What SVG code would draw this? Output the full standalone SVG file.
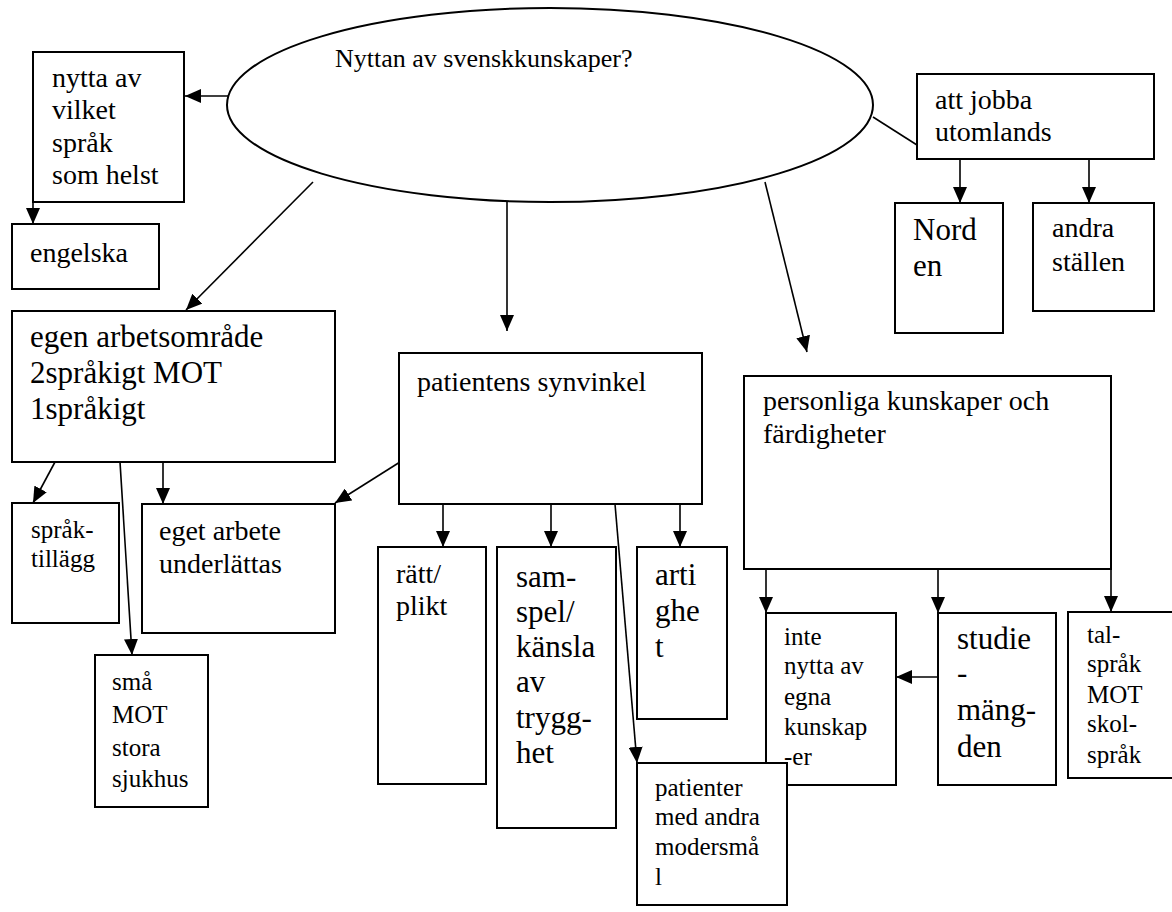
<svg xmlns="http://www.w3.org/2000/svg" width="1172" height="912" viewBox="0 0 1172 912">
  <style>
    .box { fill: #fff; stroke: #000; stroke-width: 2; }
    .oval { fill: #fff; stroke: #000; stroke-width: 2; }
    .link { fill: none; stroke: #000; stroke-width: 1.6; }
    .arrow { fill: none; stroke: #000; stroke-width: 1.6; marker-end: url(#ah); }
    text { font-family: "Liberation Serif", "Times New Roman", serif; fill: #000; }
    .f25 { font-size: 25px; }
    .f26 { font-size: 26px; }
    .f28 { font-size: 28px; }
    .f31 { font-size: 31px; }
  </style>
  <defs>
    <marker id="ah" markerWidth="16" markerHeight="14" refX="16" refY="7" orient="auto" markerUnits="userSpaceOnUse">
      <path d="M0,0 L16,7 L0,14 z" fill="#000"/>
    </marker>
  </defs>
  <rect width="1172" height="912" fill="#fff"/>

  <!-- connectors -->
  <g id="connectors">
    <line class="arrow" x1="228" y1="96" x2="185" y2="96"/>
    <line class="arrow" x1="33" y1="182" x2="33" y2="224"/>
    <line class="arrow" x1="313" y1="182" x2="186" y2="310"/>
    <line class="arrow" x1="507" y1="202" x2="507" y2="331"/>
    <line class="arrow" x1="765" y1="182" x2="807" y2="352"/>
    <line class="link" x1="873" y1="117" x2="917" y2="145"/>
    <line class="arrow" x1="960" y1="159" x2="960" y2="203"/>
    <line class="arrow" x1="1089" y1="159" x2="1089" y2="203"/>
    <line class="arrow" x1="55" y1="462" x2="33" y2="503"/>
    <line class="arrow" x1="120" y1="462" x2="132" y2="655"/>
    <line class="arrow" x1="163" y1="462" x2="163" y2="504"/>
    <line class="arrow" x1="400" y1="462" x2="335" y2="503"/>
    <line class="arrow" x1="443" y1="504" x2="443" y2="547"/>
    <line class="arrow" x1="551" y1="504" x2="551" y2="547"/>
    <line class="arrow" x1="680" y1="504" x2="680" y2="547"/>
    <line class="arrow" x1="615" y1="504" x2="637" y2="763"/>
    <line class="arrow" x1="766" y1="569" x2="766" y2="613"/>
    <line class="arrow" x1="938" y1="569" x2="938" y2="613"/>
    <line class="arrow" x1="1111" y1="569" x2="1111" y2="612"/>
    <line class="arrow" x1="938" y1="677" x2="896" y2="677"/>
  </g>

  <!-- central question -->
  <g id="nyttan">
    <ellipse class="oval" cx="550" cy="105" rx="323" ry="97"/>
    <text class="f26" x="335" y="67">Nyttan av svenskkunskaper?</text>
  </g>

  <g id="vilket-sprak">
    <rect class="box" x="33" y="52" width="151" height="150"/>
    <text class="f28"><tspan x="52" y="87">nytta av</tspan><tspan x="52" y="119">vilket</tspan><tspan x="52" y="152">språk</tspan><tspan x="52" y="184">som helst</tspan></text>
  </g>

  <g id="engelska">
    <rect class="box" x="12" y="224" width="147" height="65"/>
    <text class="f28" x="30" y="262">engelska</text>
  </g>

  <g id="utomlands">
    <rect class="box" x="917" y="74" width="237" height="85"/>
    <text class="f28"><tspan x="935" y="109">att jobba</tspan><tspan x="935" y="141">utomlands</tspan></text>
  </g>

  <g id="norden">
    <rect class="box" x="895" y="203" width="108" height="130"/>
    <text class="f31"><tspan x="913" y="240">Nord</tspan><tspan x="913" y="276">en</tspan></text>
  </g>

  <g id="andra-stallen">
    <rect class="box" x="1033" y="203" width="121" height="108"/>
    <text class="f28"><tspan x="1052" y="237">andra</tspan><tspan x="1052" y="271">ställen</tspan></text>
  </g>

  <g id="arbetsomrade">
    <rect class="box" x="12" y="311" width="323" height="151"/>
    <text class="f31"><tspan x="30" y="347">egen arbetsområde</tspan><tspan x="30" y="383">2språkigt MOT</tspan><tspan x="30" y="419">1språkigt</tspan></text>
  </g>

  <g id="spraktillagg">
    <rect class="box" x="12" y="503" width="107" height="120"/>
    <text class="f25"><tspan x="31" y="538">språk-</tspan><tspan x="31" y="567">tillägg</tspan></text>
  </g>

  <g id="eget-arbete">
    <rect class="box" x="142" y="504" width="193" height="129"/>
    <text class="f28"><tspan x="159" y="540">eget arbete</tspan><tspan x="159" y="573">underlättas</tspan></text>
  </g>

  <g id="sjukhus">
    <rect class="box" x="95" y="655" width="113" height="152"/>
    <text class="f25"><tspan x="112" y="690">små</tspan><tspan x="112" y="723">MOT</tspan><tspan x="112" y="756">stora</tspan><tspan x="112" y="787">sjukhus</tspan></text>
  </g>

  <g id="patientens-synvinkel">
    <rect class="box" x="399" y="353" width="303" height="151"/>
    <text class="f28" x="417" y="391">patientens synvinkel</text>
  </g>

  <g id="ratt-plikt">
    <rect class="box" x="378" y="547" width="108" height="237"/>
    <text class="f28"><tspan x="396" y="583">rätt/</tspan><tspan x="396" y="615">plikt</tspan></text>
  </g>

  <g id="samspel">
    <rect class="box" x="497" y="547" width="119" height="281"/>
    <text class="f31"><tspan x="516" y="587">sam-</tspan><tspan x="516" y="622">spel/</tspan><tspan x="516" y="657">känsla</tspan><tspan x="516" y="692">av</tspan><tspan x="516" y="728">trygg-</tspan><tspan x="516" y="763">het</tspan></text>
  </g>

  <g id="artighet">
    <rect class="box" x="637" y="547" width="90" height="172"/>
    <text class="f31"><tspan x="655" y="585">arti</tspan><tspan x="655" y="621">ghe</tspan><tspan x="655" y="657">t</tspan></text>
  </g>

  <g id="personliga">
    <rect class="box" x="744" y="376" width="367" height="193"/>
    <text class="f28"><tspan x="763" y="410">personliga kunskaper och</tspan><tspan x="763" y="443">färdigheter</tspan></text>
  </g>

  <g id="inte-nytta">
    <rect class="box" x="766" y="613" width="130" height="172"/>
    <text class="f25"><tspan x="784" y="645">inte</tspan><tspan x="784" y="674">nytta av</tspan><tspan x="784" y="705">egna</tspan><tspan x="784" y="735">kunskap</tspan><tspan x="784" y="765">-er</tspan></text>
  </g>

  <g id="studiemangden">
    <rect class="box" x="938" y="613" width="118" height="172"/>
    <text class="f31"><tspan x="957" y="649">studie</tspan><tspan x="957" y="683">-</tspan><tspan x="957" y="720">mäng-</tspan><tspan x="957" y="757">den</tspan></text>
  </g>

  <g id="talsprak">
    <rect class="box" x="1068" y="612" width="112" height="166"/>
    <text class="f25"><tspan x="1087" y="643">tal-</tspan><tspan x="1087" y="672">språk</tspan><tspan x="1087" y="703">MOT</tspan><tspan x="1087" y="732">skol-</tspan><tspan x="1087" y="763">språk</tspan></text>
  </g>

  <g id="patienter">
    <rect class="box" x="637" y="763" width="150" height="142"/>
    <text class="f25"><tspan x="655" y="796">patienter</tspan><tspan x="655" y="825">med andra</tspan><tspan x="655" y="855">modersmå</tspan><tspan x="655" y="885">l</tspan></text>
  </g>
</svg>
